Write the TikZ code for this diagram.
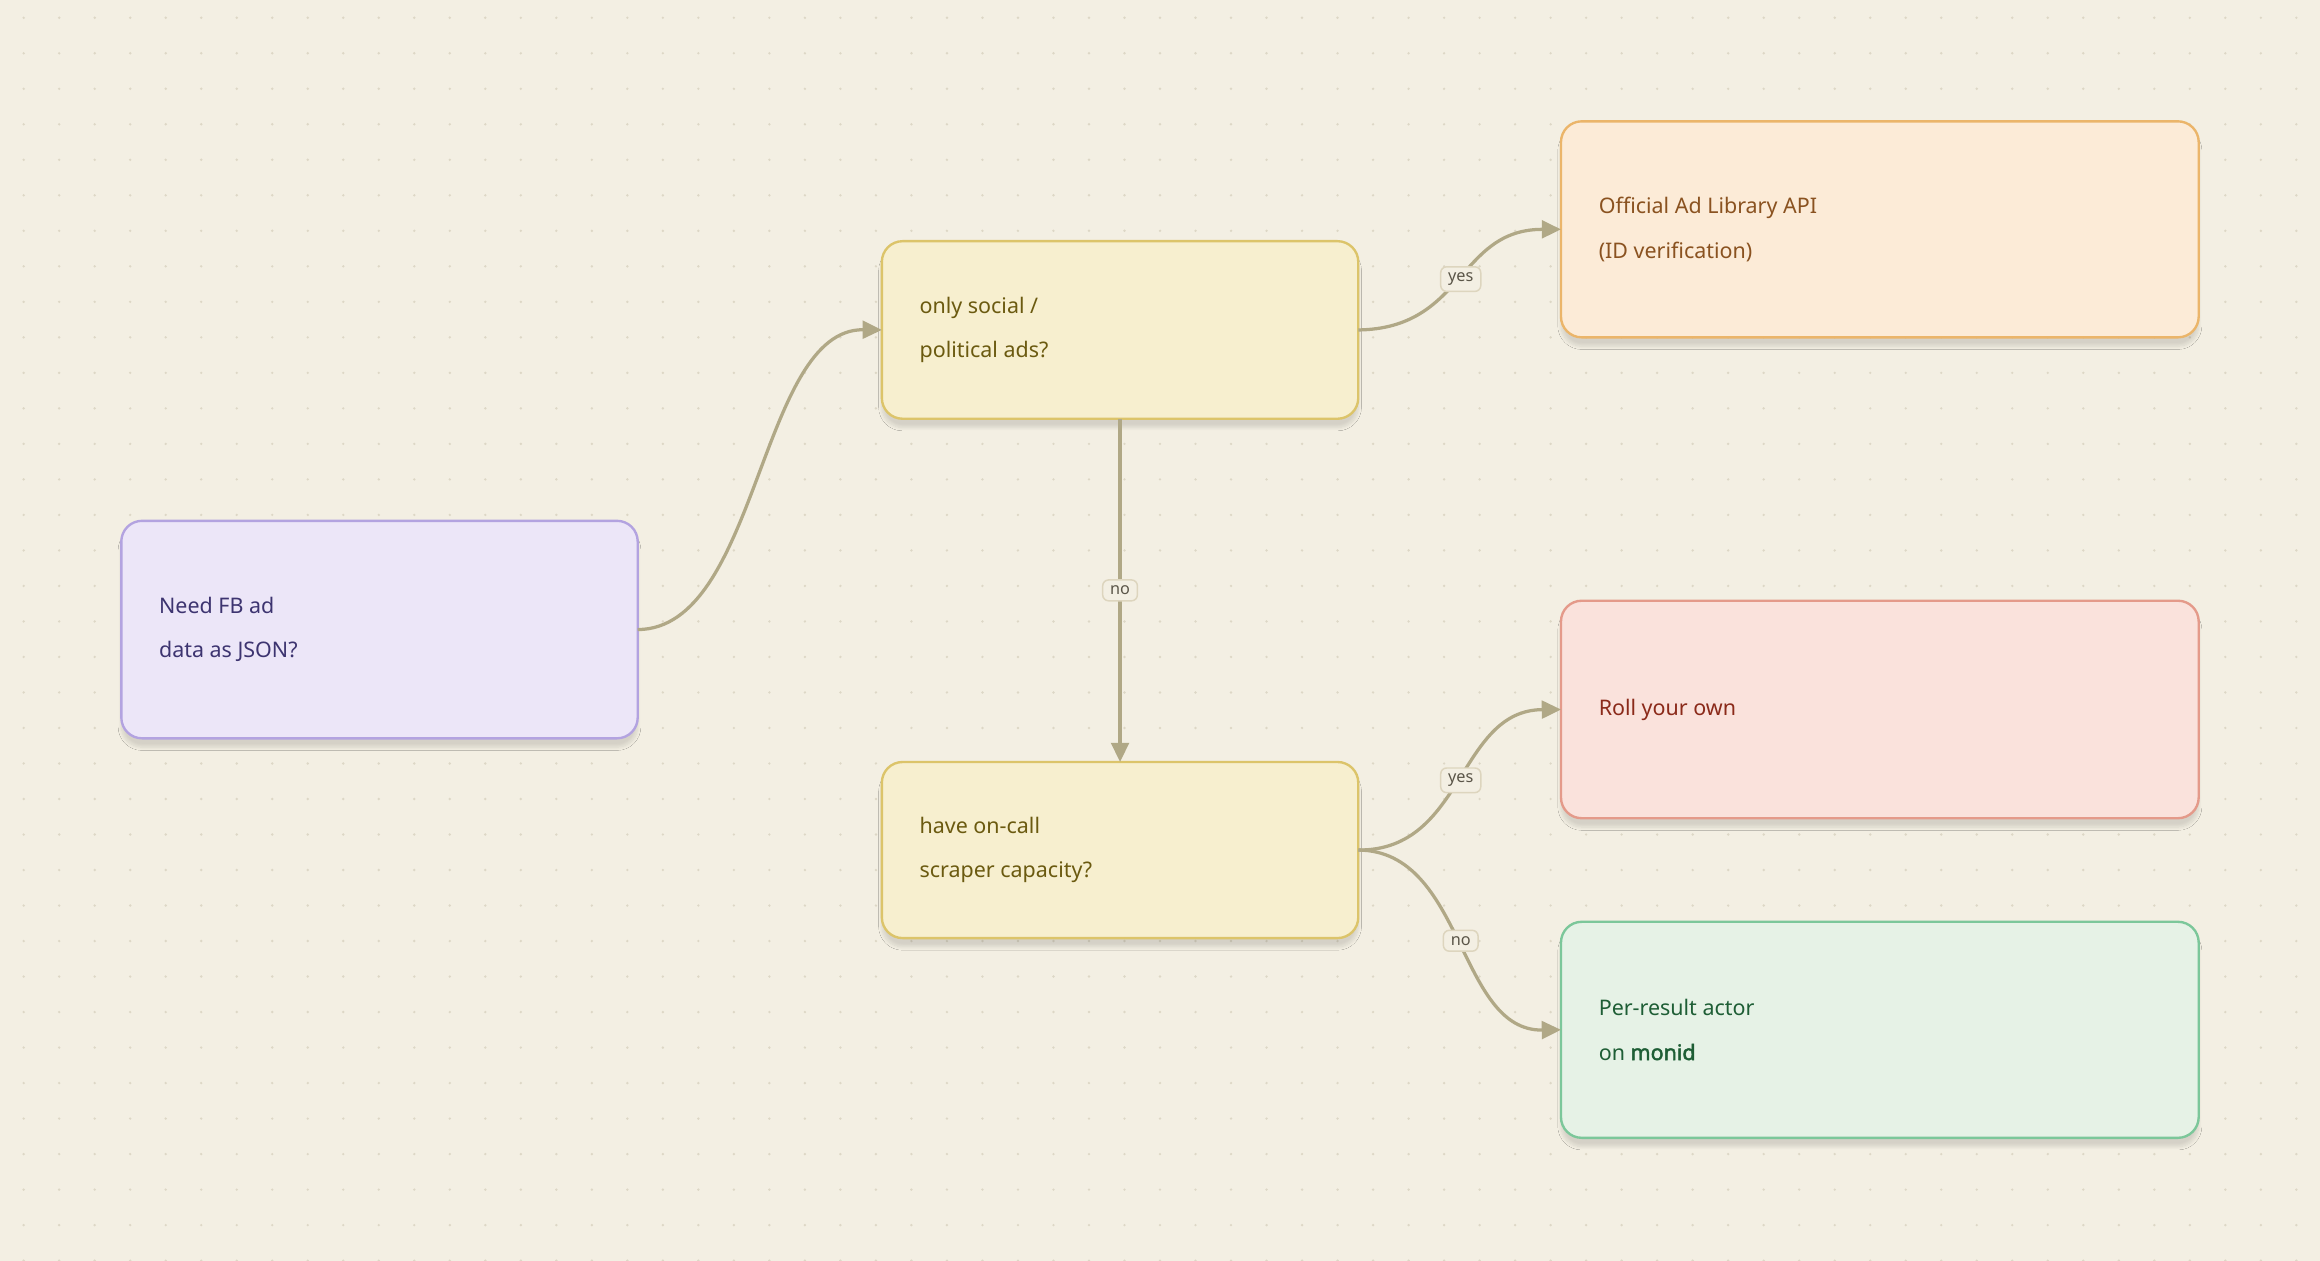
\documentclass[tikz,border=0pt]{standalone}
\usepackage{fontspec}
\setmainfont{Noto Sans}
\newfontfamily\heavyfont{Noto Sans}[FakeBold=2]
\usetikzlibrary{arrows.meta,shadows.blur}
\definecolor{bg}{HTML}{F3EFE3}
\definecolor{dotc}{HTML}{DDD7C6}
\definecolor{edge}{HTML}{B0A886}
\definecolor{labd}{HTML}{DDD5BE}
\definecolor{labt}{HTML}{5A5548}
\begin{document}
\begin{tikzpicture}[x=1pt,y=-1pt,
  box/.style={line width=1.6pt,rounded corners=14pt,
    blur shadow={shadow blur steps=8,shadow xshift=0pt,shadow yshift=-6pt,shadow opacity=12}},
  conn/.style={draw=edge,line width=2.2pt,-{Triangle[length=13pt,width=12pt]}},
  lab/.style={draw=labd,fill=bg,rounded corners=4pt,line width=1pt,
    font=\fontsize{11}{13}\selectfont,text=labt,inner xsep=5pt,inner ysep=4pt}]
\path[use as bounding box,fill=bg] (0,0) rectangle (1568,852);
\foreach \i in {0,...,65}{\foreach \j in {0,...,35}{\fill[dotc] (16+\i*24,12+\j*24) circle (0.9pt);}}
\newcommand\bx[9]{%
 \definecolor{f#1}{HTML}{#6}\definecolor{d#1}{HTML}{#7}\definecolor{t#1}{HTML}{#8}%
 \path[box,fill=f#1,draw=d#1] (#2,#3) rectangle (#4,#5);
 \node[anchor=west,align=left,text=t#1,font=\fontsize{14.5}{23}\selectfont] (#1) at (#2+22,{(#3+#5)/2}) {#9};
 \coordinate (#1w) at (#2,{(#3+#5)/2}); \coordinate (#1e) at (#4,{(#3+#5)/2});
 \coordinate (#1n) at ({(#2+#4)/2},#3); \coordinate (#1s) at ({(#2+#4)/2},#5);}
\bx{A}{82}{352}{431}{499}{ECE6F8}{B3A3E0}{3D3470}{Need FB ad\\[7pt]data as JSON?}
\bx{B}{596}{163}{918}{283}{F7EFCF}{DCC46A}{6B5A10}{only social /\\[7pt]political ads?}
\bx{C}{596}{515}{918}{634}{F7EFCF}{DCC46A}{6B5A10}{have on-call\\[7pt]scraper capacity?}
\bx{D}{1055}{82}{1486}{228}{FCEBD7}{EBB56A}{8A5220}{Official Ad Library API\\[7pt](ID verification)}
\bx{E}{1055}{406}{1486}{553}{FAE2DC}{E49A8A}{8B2A1A}{Roll your own}
\bx{F}{1055}{623}{1486}{769}{E6F2E6}{7CC79A}{1E5E35}{Per-result actor\\[7pt]on {\heavyfont\bfseries monid}}
\draw[conn] (Ae) .. controls (513,425) and (513,222) .. (Bw);
\draw[conn] (Be) .. controls (990,222) and (985,155) .. (Dw) node[lab,pos=0.5] {yes};
\draw[conn] (Bs) -- (Cn) node[lab,pos=0.5] {no};
\draw[conn] (Ce) .. controls (990,575) and (985,480) .. (Ew) node[lab,pos=0.5] {yes};
\draw[conn] (Ce) .. controls (990,575) and (985,697) .. (Fw) node[lab,pos=0.5] {no};
\end{tikzpicture}
\end{document}
